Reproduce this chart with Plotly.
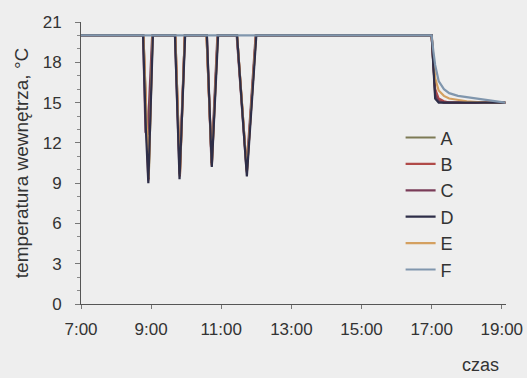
import plotly.graph_objects as go

# time in hours (decimal), temperature in degC
names = ["A", "B", "C", "D", "E", "F"]
colors = ["#7d7a55", "#b04a48", "#7a3c58", "#2e2e48", "#d4a060", "#8096ad"]

t_A = [7.0, 8.78, 8.93, 9.04, 9.69, 9.82, 9.96, 10.58, 10.73, 10.90, 11.45, 11.73, 11.99,
       17.0, 17.05, 17.1, 17.2, 17.35, 17.5, 17.75, 18.0, 18.5, 19.1]
v_A = [20, 20, 9.3, 20, 20, 9.6, 20, 20, 10.4, 20, 20, 9.9, 20,
       20, 17.8, 15.8, 15.2, 15.0, 15.0, 15.0, 15.0, 15.0, 15.0]

t_B = [7.0, 8.78, 8.92, 9.04, 9.69, 9.82, 9.96, 10.58, 10.73, 10.90, 11.45, 11.73, 11.99,
       17.0, 17.05, 17.1, 17.2, 17.35, 17.5, 17.75, 18.0, 18.5, 19.1]
v_B = [20, 20, 9.2, 20, 20, 9.5, 20, 20, 10.3, 20, 20, 9.8, 20,
       20, 17.9, 16.0, 15.3, 15.1, 15.0, 15.0, 15.0, 15.0, 15.0]

t_C = [7.0, 8.77, 8.84, 8.90, 9.03, 9.68, 9.81, 9.96, 10.59, 10.72, 10.89, 11.44, 11.72, 11.98,
       17.0, 17.05, 17.1, 17.2, 17.35, 17.5, 17.75, 18.0, 18.5, 19.1]
v_C = [20, 20, 12.8, 12.6, 20, 20, 9.7, 20, 20, 10.5, 20, 20, 10.0, 20,
       20, 17.7, 15.6, 15.1, 15.0, 15.0, 15.0, 15.0, 15.0, 15.0]

t_D = [7.0, 8.77, 8.85, 8.92, 9.05, 9.68, 9.81, 9.97, 10.59, 10.73, 10.91, 11.45, 11.73, 12.0,
       17.0, 17.05, 17.1, 17.2, 17.35, 17.5, 17.75, 18.0, 18.5, 19.1]
v_D = [20, 20, 13.0, 9.0, 20, 20, 9.3, 20, 20, 10.2, 20, 20, 9.5, 20,
       20, 17.5, 15.3, 15.0, 15.0, 15.0, 15.0, 15.0, 15.0, 15.0]

t_E = [7.0, 8.78, 8.93, 9.04, 9.69, 9.82, 9.96, 10.58, 10.73, 10.90, 11.45, 11.73, 11.99,
       17.0, 17.05, 17.1, 17.2, 17.35, 17.5, 17.75, 18.0, 18.5, 19.1]
v_E = [20, 20, 9.4, 20, 20, 9.6, 20, 20, 10.4, 20, 20, 9.9, 20,
       20, 18.3, 16.8, 15.9, 15.5, 15.3, 15.2, 15.1, 15.0, 15.0]

t_F = [7.0, 17.0, 17.05, 17.1, 17.2, 17.35, 17.5, 17.75, 18.0, 18.5, 19.1]
v_F = [20, 20, 18.8, 17.8, 16.6, 16.0, 15.7, 15.5, 15.4, 15.2, 15.0]

series_t = [t_A, t_B, t_C, t_D, t_E, t_F]
series_v = [v_A, v_B, v_C, v_D, v_E, v_F]
draw_order = [0, 1, 2, 4, 3, 5]  # D drawn over E, F on top

x_tickvals = [7, 9, 11, 13, 15, 17, 19]
x_ticktext = ["7:00", "9:00", "11:00", "13:00", "15:00", "17:00", "19:00"]
y_tickvals = [0, 3, 6, 9, 12, 15, 18, 21]

fig = go.Figure()
for i in draw_order:
    fig.add_trace(go.Scatter(x=series_t[i], y=series_v[i], mode="lines", name=names[i],
                             legendgroup=names[i], legendrank=i + 1,
                             line=dict(color=colors[i], width=2.2)))

font_family = "Liberation Sans, Arial, sans-serif"
fig.update_layout(
    width=527, height=378,
    margin=dict(l=81, r=21, t=22, b=74, autoexpand=False),
    paper_bgcolor="#eeeeee", plot_bgcolor="#eeeeee",
    font=dict(family=font_family, size=17, color="#333333"),
    showlegend=True,
    legend=dict(x=0.752, y=0.655, xanchor="left", yanchor="top",
                bgcolor="rgba(0,0,0,0)", font=dict(size=18, color="#333333"),
                tracegroupgap=0, itemwidth=30),
    xaxis=dict(range=[7, 19.12], tickvals=x_tickvals, ticktext=x_ticktext,
               automargin=False, ticklabelstandoff=6,
               showgrid=False, zeroline=False, showline=True, linecolor="#555555",
               linewidth=1, ticks="outside", ticklen=4, tickcolor="#777777"),
    yaxis=dict(range=[0, 21], tickvals=y_tickvals, showgrid=False, zeroline=False,
               automargin=False, ticklabelstandoff=10,
               showline=True, linecolor="#555555", linewidth=1,
               ticks="outside", ticklen=5, tickcolor="#777777",
               minor=dict(dtick=1, ticks="outside", ticklen=3, tickcolor="#888888"),
               title=dict(text="temperatura wewnętrza, °C", standoff=9,
                          font=dict(size=19, color="#333333"))),
)
fig.add_annotation(text="czas", xref="paper", yref="paper", x=0.94, y=-0.215,
                   xanchor="center", yanchor="middle", showarrow=False,
                   font=dict(size=18, color="#333333"))
fig.write_html("out.html", config={"displayModeBar": False},
               post_script="document.body.style.margin='0';"
                           "document.body.style.background='#eeeeee';")
